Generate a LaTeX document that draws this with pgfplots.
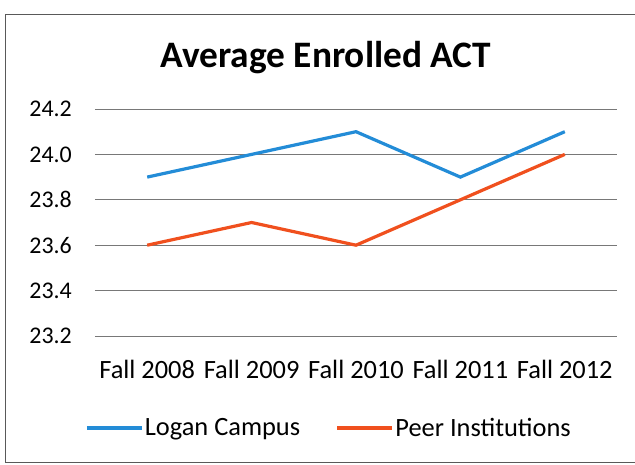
\documentclass[border=0pt]{standalone}
\usepackage{pgfplots}
\pgfplotsset{compat=1.18}
\usepackage{fontspec}
\setmainfont{Carlito}
\definecolor{logan}{RGB}{35,140,215}
\definecolor{peer}{RGB}{240,80,30}
\definecolor{gridc}{RGB}{120,120,120}
\begin{document}
\begin{tikzpicture}
\useasboundingbox (0,0) rectangle (635bp,465bp);
\draw[gray!70!black, line width=0.8bp] (635bp,451bp) -- (5bp,451bp) -- (5bp,3bp) -- (635bp,3bp);
\node[font=\fontsize{37.5}{42}\selectfont\bfseries, anchor=base] at (326bp,397bp) {Average Enrolled ACT};
\begin{axis}[
  at={(95bp,129bp)}, anchor=south west,
  scale only axis, width=522bp, height=227bp,
  xmin=-0.5, xmax=4.5, ymin=23.2, ymax=24.2,
  axis line style={draw=none},
  tick style={draw=none},
  ytick={23.2,23.4,...,24.21},
  ymajorgrids,
  grid style={gridc, line width=0.9bp},
  xtick={0,1,2,3,4},
  xticklabels={Fall 2008,Fall 2009,Fall 2010,Fall 2011,Fall 2012},
  /pgf/number format/assume math mode=true,
  /pgf/number format/fixed,
  /pgf/number format/fixed zerofill,
  /pgf/number format/precision=1,
  yticklabel style={font=\fontsize{24}{28}\selectfont, anchor=east, inner sep=0pt, xshift=-23bp},
  xticklabel style={font=\fontsize{26.5}{30}\selectfont, anchor=north, inner sep=0pt, yshift=-24bp},
  legend columns=2,
  legend style={at={(axis description cs:-0.0192,-0.4053)}, anchor=west,
    draw=none, fill=none, inner sep=0pt, font=\fontsize{26.5}{30}\selectfont,
    /tikz/every even column/.append style={column sep=34bp},
    nodes={inner sep=1.5bp}},
  legend image code/.code={\draw[#1] (0bp,0bp) -- (55bp,0bp);},
]
\addplot[logan, line width=3.2bp] coordinates {(0,23.9) (1,24.0) (2,24.1) (3,23.9) (4,24.1)};
\addlegendentry{Logan Campus}
\addplot[peer, line width=3.2bp] coordinates {(0,23.6) (1,23.7) (2,23.6) (3,23.8) (4,24.0)};
\addlegendentry{Peer Institutions}
\end{axis}
\end{tikzpicture}
\end{document}
